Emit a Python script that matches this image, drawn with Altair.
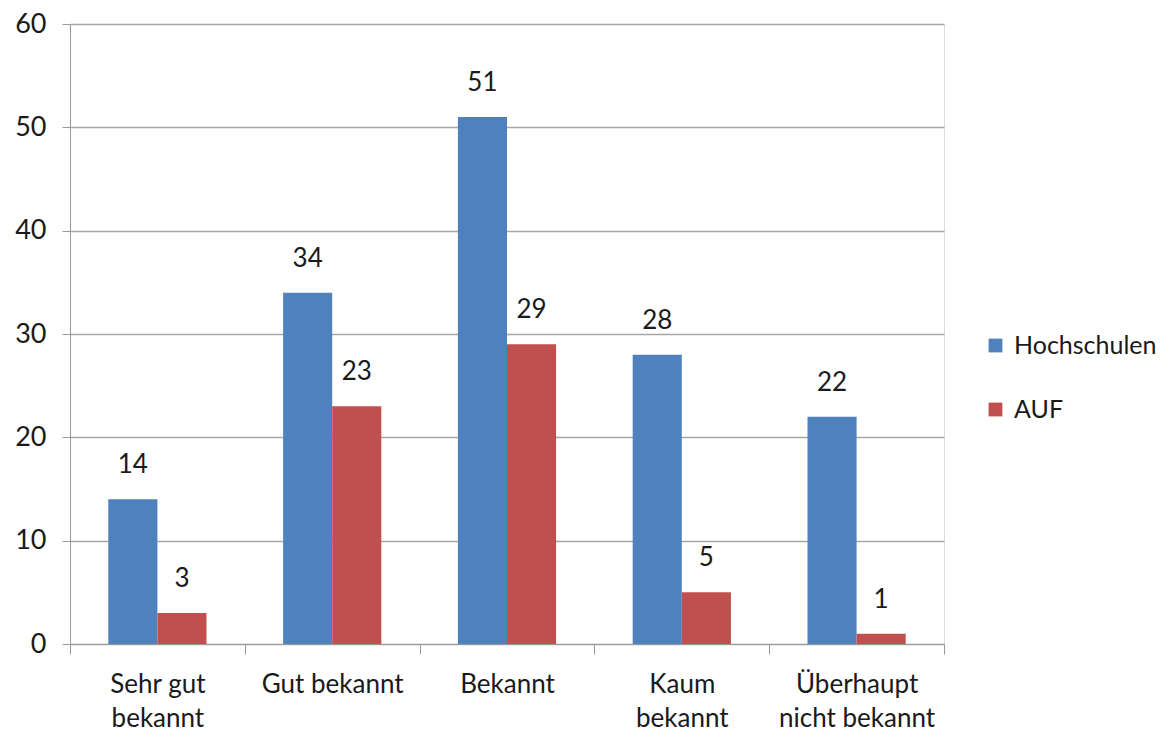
import altair as alt
import pandas as pd

categories = ["Sehr gut\nbekannt", "Gut bekannt", "Bekannt", "Kaum\nbekannt", "Überhaupt\nnicht bekannt"]
series = ["Hochschulen", "AUF"]
hochschulen = [14, 34, 51, 28, 22]
auf = [3, 23, 29, 5, 1]
colors = ["#4F81BD", "#C0504D"]

rows = []
for c, h, a in zip(categories, hochschulen, auf):
    rows.append({"cat": c, "series": "Hochschulen", "value": h})
    rows.append({"cat": c, "series": "AUF", "value": a})
df = pd.DataFrame(rows)

FONT = "Lato"

x = alt.X("cat:N", sort=categories, title=None,
          scale=alt.Scale(paddingInner=0, paddingOuter=0),
          axis=alt.Axis(labelAngle=0, labelExpr="split(datum.label, '\\n')",
                        labelFontSize=26, labelFont=FONT, labelColor="#1a1a1a",
                        labelLineHeight=34, labelPadding=30, labelBaseline="middle",
                        tickBand="extent", tickSize=10, tickColor="#999999",
                        domainColor="#999999", grid=False))
xo = alt.XOffset("series:N", sort=series, scale=alt.Scale(paddingOuter=0.78, paddingInner=0))
y = alt.Y("value:Q", title=None,
          scale=alt.Scale(domain=[0, 60], nice=False),
          axis=alt.Axis(values=[0, 10, 20, 30, 40, 50, 60], labelFontSize=27, labelFont=FONT,
                        labelColor="#1a1a1a", labelPadding=16, tickSize=8, tickColor="#999999",
                        domainColor="#999999", gridColor="#a6a6a6", gridWidth=1.5))
color = alt.Color("series:N", sort=series, title=None,
                  scale=alt.Scale(domain=series, range=colors),
                  legend=alt.Legend(orient="none", legendX=913, legendY=309,
                                    symbolType="square", symbolSize=190, symbolStrokeWidth=0,
                                    labelFontSize=25, labelFont=FONT, labelColor="#1a1a1a",
                                    rowPadding=38, labelOffset=6))

base = alt.Chart(df)
bars = base.mark_bar().encode(x=x, xOffset=xo, y=y, color=color)
labels = base.mark_text(dy=-34, baseline="middle", fontSize=26, font=FONT, color="#1a1a1a").encode(
    x=x, xOffset=xo, y=y, text="value:Q")

chart = (bars + labels).properties(
    width=874, height=620,
    autosize=alt.AutoSizeParams(type="none"),
    padding={"left": 62, "top": 16, "right": 220, "bottom": 92},
).configure_view(stroke=None).configure(background="white")

chart.save("out.html", embed_options={"renderer": "svg", "actions": False})
